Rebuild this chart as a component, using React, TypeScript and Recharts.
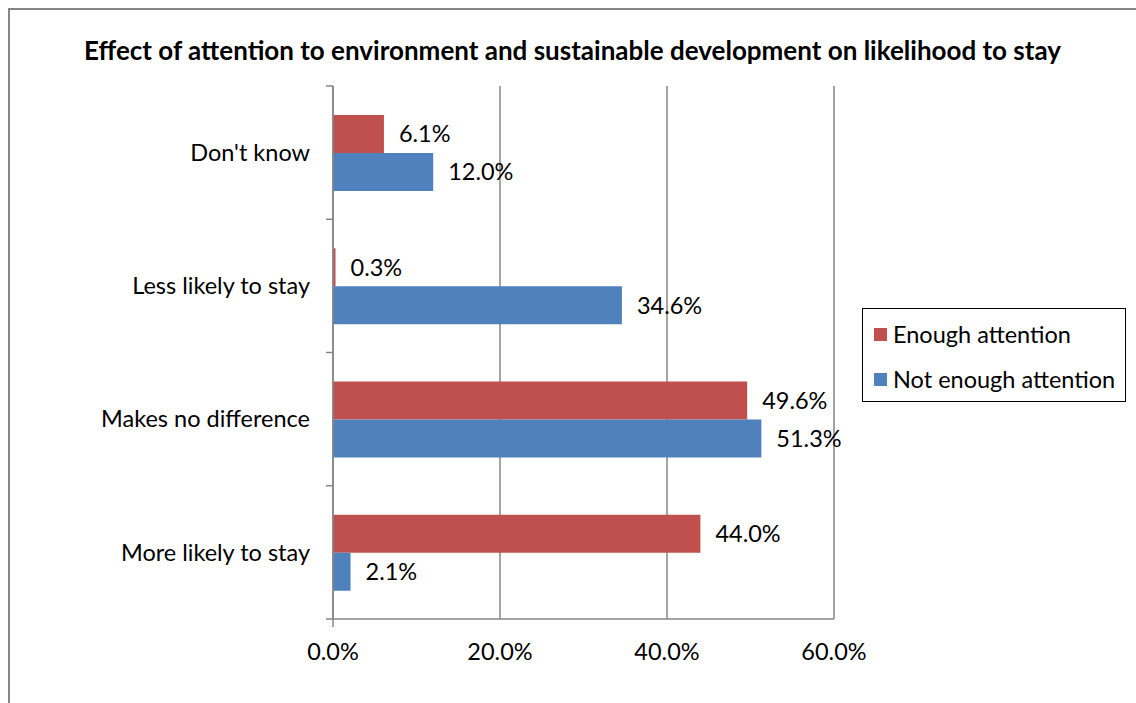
import { BarChart, Bar, XAxis, YAxis, CartesianGrid, Legend, LabelList } from 'recharts';

const categories = ["Don't know", 'Less likely to stay', 'Makes no difference', 'More likely to stay'];
const enoughAttention = [6.1, 0.3, 49.6, 44.0];
const notEnoughAttention = [12.0, 34.6, 51.3, 2.1];
const xTicks = [0, 20, 40, 60];

const data = categories.map((name, i) => ({
  name,
  enough: enoughAttention[i],
  notEnough: notEnoughAttention[i],
}));

const W = 1136;
const H = 703;
// plot area in page pixels
const PLOT_LEFT = 333;
const PLOT_RIGHT = 834;
const PLOT_TOP = 86;
const PLOT_BOTTOM = 619;
const BAND = (PLOT_BOTTOM - PLOT_TOP) / categories.length;

const RED = '#C0504D';
const BLUE = '#4F81BD';
const AXIS = '#868686';
const FONT = 'Lato, "Liberation Sans", sans-serif';
const FS = 23.5;

const pct = (v: number) => `${v.toFixed(1)}%`;

// category label plus tick marks on the band boundaries
function CategoryTick(props: any) {
  const { y, payload, index } = props;
  const top = y - BAND / 2;
  return (
    <g>
      <line x1={PLOT_LEFT - 7} x2={PLOT_LEFT} y1={top} y2={top} stroke={AXIS} strokeWidth={1.5} />
      {index === categories.length - 1 && (
        <line x1={PLOT_LEFT - 7} x2={PLOT_LEFT} y1={top + BAND} y2={top + BAND} stroke={AXIS} strokeWidth={1.5} />
      )}
      <text x={PLOT_LEFT - 23} y={y} dy="0.35em" textAnchor="end" fontSize={FS} fill="#000" fontFamily={FONT}>
        {payload.value}
      </text>
    </g>
  );
}

function ValueTick(props: any) {
  const { x, payload } = props;
  return (
    <g>
      {payload.value === 0 && (
        <line x1={x} x2={x} y1={PLOT_BOTTOM} y2={PLOT_BOTTOM + 8} stroke={AXIS} strokeWidth={1.5} />
      )}
      <text x={x} y={PLOT_BOTTOM + 24} dy="0.71em" textAnchor="middle" fontSize={FS} fill="#000" fontFamily={FONT}>
        {pct(payload.value)}
      </text>
    </g>
  );
}

function LegendBox() {
  const items = [
    { label: 'Enough attention', color: RED },
    { label: 'Not enough attention', color: BLUE },
  ];
  return (
    <div
      style={{
        border: '1.5px solid #000',
        width: 264,
        height: 94,
        boxSizing: 'border-box',
        padding: '8px 0 0 11px',
        fontFamily: FONT,
        fontSize: FS,
        color: '#000',
      }}
    >
      {items.map((it) => (
        <div key={it.label} style={{ display: 'flex', alignItems: 'center', height: 34, marginBottom: 11 }}>
          <span style={{ display: 'inline-block', width: 13, height: 13, background: it.color, marginRight: 6 }} />
          <span>{it.label}</span>
        </div>
      ))}
    </div>
  );
}

export default function App() {
  return (
    <div style={{ position: 'absolute', left: 0, top: 0, width: W, height: H, background: '#fff' }}>
      <div
        style={{
          position: 'absolute',
          left: 8,
          top: 8,
          right: 0,
          bottom: 0,
          borderTop: `2px solid ${AXIS}`,
          borderLeft: `2px solid ${AXIS}`,
        }}
      />
      <div
        style={{
          position: 'absolute',
          left: 0,
          width: W,
          top: 34,
          textAlign: 'center',
          fontFamily: FONT,
          fontWeight: 'bold',
          fontSize: 26,
          lineHeight: '32px',
          color: '#000',
          paddingLeft: 9,
          boxSizing: 'border-box',
        }}
      >
        Effect of attention to environment and sustainable development on likelihood to stay
      </div>
      <BarChart
        width={W}
        height={H}
        data={data}
        layout="vertical"
        margin={{ top: PLOT_TOP, right: W - PLOT_RIGHT, bottom: 0, left: 0 }}
        barGap={0}
        style={{ position: 'absolute', left: 0, top: 0 }}
      >
        <CartesianGrid horizontal={false} stroke={AXIS} strokeWidth={1.5} />
        <XAxis
          type="number"
          domain={[0, 60]}
          ticks={xTicks}
          tick={<ValueTick />}
          tickLine={false}
          axisLine={{ stroke: AXIS, strokeWidth: 1.5 }}
          height={H - PLOT_BOTTOM}
          interval={0}
        />
        <YAxis
          type="category"
          dataKey="name"
          width={PLOT_LEFT}
          tick={<CategoryTick />}
          tickLine={false}
          axisLine={{ stroke: AXIS, strokeWidth: 1.5 }}
          interval={0}
        />
        <Legend
          layout="vertical"
          align="center"
          verticalAlign="middle"
          content={() => <LegendBox />}
          wrapperStyle={{ left: 862, top: 308, width: 264, height: 94 }}
        />
        <Bar dataKey="enough" name="Enough attention" fill={RED} barSize={38} isAnimationActive={false}>
          <LabelList dataKey="enough" position="right" offset={15} formatter={(v: any) => pct(Number(v))} fill="#000" fontSize={FS} fontFamily={FONT} />
        </Bar>
        <Bar dataKey="notEnough" name="Not enough attention" fill={BLUE} barSize={38} isAnimationActive={false}>
          <LabelList dataKey="notEnough" position="right" offset={15} formatter={(v: any) => pct(Number(v))} fill="#000" fontSize={FS} fontFamily={FONT} />
        </Bar>
      </BarChart>
    </div>
  );
}
